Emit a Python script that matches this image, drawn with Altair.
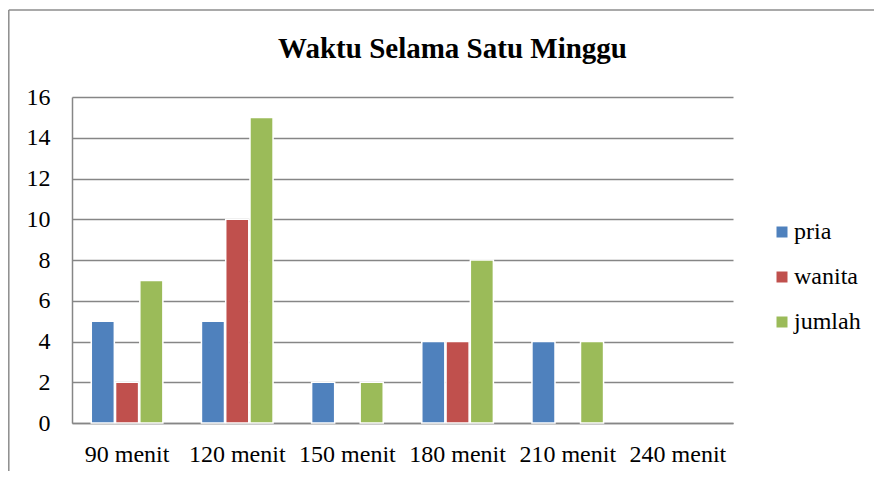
import altair as alt
import pandas as pd

categories = ["90 menit", "120 menit", "150 menit", "180 menit", "210 menit", "240 menit"]
series = ["pria", "wanita", "jumlah"]
pria = [5, 5, 2, 4, 4, 0]
wanita = [2, 10, 0, 4, 0, 0]
jumlah = [7, 15, 2, 8, 4, 0]
colors = ["#4F81BD", "#C0504D", "#9BBB59"]
y_ticks = [0, 2, 4, 6, 8, 10, 12, 14, 16]

rows = []
for i, c in enumerate(categories):
    for s, vals in zip(series, [pria, wanita, jumlah]):
        rows.append({"kategori": c, "seri": s, "nilai": vals[i]})
df = pd.DataFrame(rows)

FONT = "Liberation Serif"
W, H = 661, 326

one = alt.Data(values=[{"a": 1}])
frame_top = alt.Chart(one).mark_rule(stroke="#8c8c8c", strokeWidth=1.5).encode(
    x=alt.value(-63.2), x2=alt.value(W + 300), y=alt.value(-87)
)
frame_left = alt.Chart(one).mark_rule(stroke="#8c8c8c", strokeWidth=1.5).encode(
    x=alt.value(-63.2), y=alt.value(-87), y2=alt.value(H + 300)
)

bars = alt.Chart(df).transform_filter("datum.nilai > 0").mark_bar(
    stroke="white", strokeWidth=1.5
).encode(
    x=alt.X("kategori:N", sort=categories,
            scale=alt.Scale(domain=categories, paddingInner=0.35, paddingOuter=0.175),
            axis=alt.Axis(title=None, labelAngle=0, ticks=False, labelPadding=19,
                          labelFont=FONT, labelFontSize=24, labelColor="black",
                          domainColor="#868686", domainWidth=1.5)),
    xOffset=alt.XOffset("seri:N", sort=series,
                        scale=alt.Scale(domain=series, paddingInner=0.05)),
    y=alt.Y("nilai:Q", scale=alt.Scale(domain=[0, 16]),
            axis=alt.Axis(title=None, values=y_ticks, ticks=False, labelPadding=22,
                          labelFont=FONT, labelFontSize=24, labelColor="black",
                          grid=True, gridColor="#868686", gridWidth=1.5,
                          domainColor="#868686", domainWidth=1.5)),
    color=alt.Color("seri:N", sort=series,
                    scale=alt.Scale(domain=series, range=colors),
                    legend=alt.Legend(title=None, orient="none", legendX=698, legendY=123,
                                      symbolType="square", symbolSize=121,
                                      symbolStrokeWidth=0, labelOffset=0,
                                      labelFont=FONT, labelFontSize=24, labelColor="black",
                                      rowPadding=21, padding=0)),
)

chart = alt.layer(frame_top, frame_left, bars).properties(
    width=W, height=H,
    background="white",
    padding={"left": 64, "top": 89, "right": 141, "bottom": 48},
    autosize=alt.AutoSizeParams(type="none"),
    title=alt.TitleParams("Waktu Selama Satu Minggu", font=FONT, fontSize=29,
                          fontWeight="bold", color="black", anchor="middle",
                          frame="group", dx=50, offset=-55),
).configure(font=FONT).configure_view(stroke=None)

chart.save("out.html", embed_options={"renderer": "svg", "actions": False})
